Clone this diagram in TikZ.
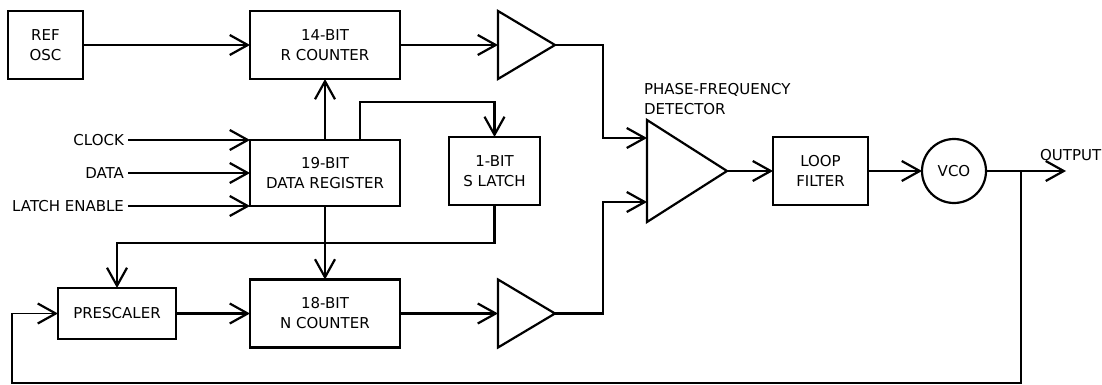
\documentclass[tikz,border=0pt]{standalone}
\usepackage{fontspec}
\setmainfont{DejaVu Sans}
\usetikzlibrary{arrows.meta,positioning,shapes.geometric}

\begin{document}
\begin{tikzpicture}[
    x=1pt, y=-1pt,
    font=\fontsize{15}{20}\selectfont,
    line width=2.2pt,
    block/.style={rectangle, draw, align=center, inner sep=0pt, outer sep=0pt, minimum width=150pt, minimum height=68pt},
    amp/.style={isosceles triangle, isosceles triangle stretches, draw, inner sep=0pt, outer sep=0pt, anchor=west},
    sig/.style={-{Straight Barb[length=18pt,width=20pt,line width=2.2pt]}},
    lbl/.style={inner sep=3pt, anchor=east}
]
\useasboundingbox (0,0) rectangle (1102,385);
\node[block, minimum width=75pt] (refosc) at (45.5,45) {REF\\OSC};
\node[block] (rcnt) at (325,45) {14-BIT\\R COUNTER};
\node[block, minimum height=66pt] (dreg) at (325,173) {19-BIT\\DATA REGISTER};
\node[block, minimum width=91pt] (slatch) at (494.5,171) {1-BIT\\S LATCH};
\node[block, minimum width=118pt, minimum height=51pt] (pres) at (117,313.5) {PRESCALER};
\node[block] (ncnt) at (325,313.5) {18-BIT\\N COUNTER};
\node[amp, minimum width=68pt, minimum height=57pt] (bufr) at (498,45) {};
\node[amp, minimum width=68pt, minimum height=57pt] (bufn) at (498,313.5) {};
\node[amp, minimum width=102pt, minimum height=80pt] (pfd) at (647,171) {};
\node[block, minimum width=95pt] (filt) at (820.5,171) {LOOP\\FILTER};
\node[circle, draw, minimum size=64pt, inner sep=0pt, outer sep=0pt] (vco) at (954,171) {VCO};
\node[anchor=north west, align=left, inner sep=0pt] (pfdlbl) at (643,82) {PHASE-FREQUENCY\\DETECTOR};
\node[anchor=base west, inner sep=0pt] (outlbl) at (1039,160) {OUTPUT};
\node[lbl] (clk) at (128,140) {CLOCK};
\node[lbl] (dat) at (128,173) {DATA};
\node[lbl] (le) at (128,206) {LATCH ENABLE};

\coordinate (dtap) at ([xshift=35pt]dreg.north);
\coordinate (ltop) at (dtap |- 0,102);
\coordinate (lbot) at (slatch.south |- 0,243);
\coordinate (jr) at (603,138);
\coordinate (jn) at (603,202);
\coordinate (otap) at (1021,171);
\coordinate (out) at (1066,171);
\coordinate (fbr) at (1021,383);
\coordinate (fbl) at (12,383);

\draw[sig] (refosc.east) -- (rcnt.west);
\draw[sig] (rcnt.east) -- (bufr.west);
\draw[sig] (clk.east) -- (clk -| dreg.west);
\draw[sig] (dat.east) -- (dat -| dreg.west);
\draw[sig] (le.east) -- (le -| dreg.west);
\draw[sig] (dreg.north) -- (rcnt.south);
\draw[sig] (dtap) -- (ltop) -| (slatch.north);
\draw[sig] (slatch.south) -- (lbot) -| (pres.north);
\draw[sig] (dreg.south) -- (ncnt.north);
\draw[sig] (pres.east) -- (ncnt.west);
\draw[sig] (ncnt.east) -- (bufn.west);
\draw[sig] (bufr.apex) -| (jr) -- (jr -| pfd.west);
\draw[sig] (bufn.apex) -| (jn) -- (jn -| pfd.west);
\draw[sig] (pfd.apex) -- (filt.west);
\draw[sig] (filt.east) -- (vco.west);
\draw[sig] (vco.east) -- (out);
\draw[sig, line width=1.4pt] (otap) -- (fbr) -- (fbl) |- (pres.west);
\end{tikzpicture}
\end{document}
